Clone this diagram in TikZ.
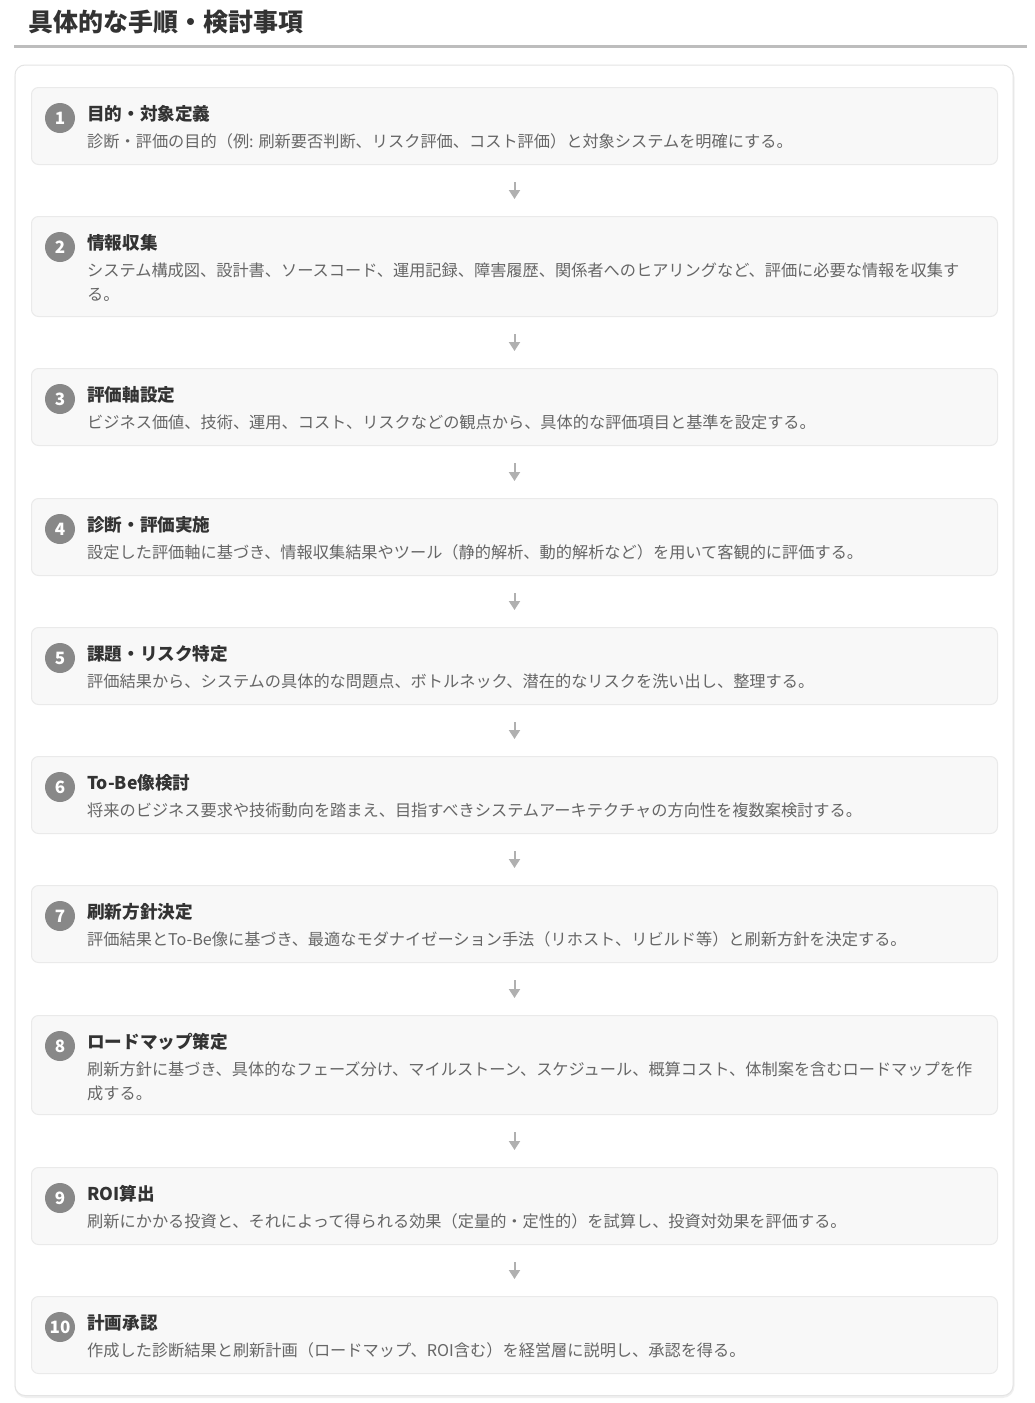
\documentclass[tikz,border=0pt]{standalone}
\usepackage{fontspec}
\setmainfont{Noto Sans CJK JP}
\usetikzlibrary{arrows.meta}
\definecolor{boxfill}{HTML}{F8F8F8}
\definecolor{boxline}{HTML}{EAEAEA}
\definecolor{cardline}{HTML}{E4E4E4}
\definecolor{rulegray}{HTML}{BDBDBD}
\definecolor{numgray}{HTML}{888888}
\definecolor{titletext}{HTML}{333333}
\definecolor{desctext}{HTML}{666666}
\definecolor{arrowgray}{HTML}{B0B0B0}
\tikzset{
  stepbox/.style={draw=boxline, fill=boxfill, line width=1pt, rounded corners=7pt,
    minimum width=966pt, anchor=north west, inner sep=0pt},
  numcircle/.style={circle, fill=numgray, minimum size=30pt, inner sep=0pt,
    text=white, font=\fontsize{17}{17}\selectfont\bfseries},
  steptitle/.style={anchor=base west, inner sep=0pt, text=titletext,
    font=\fontsize{17.6}{20}\selectfont\bfseries},
  stepdesc/.style={anchor=base west, inner sep=0pt, text=desctext, align=left,
    font=\fontsize{16.2}{24}\selectfont},
  flowarrow/.style={draw=arrowgray, line width=2pt,
    -{Triangle[width=11pt,length=9pt]}, shorten <=17pt, shorten >=17pt},
}
% #1 name, #2 top y, #3 height, #4 number, #5 title, #6 description, #7 baseline offset of last line
\newcommand\stepitem[7]{%
  \node[stepbox, minimum height=#3pt] (#1) at (31,#2) {};
  \node[numcircle] (#1n) at (60,#2+31) {#4};
  \node[steptitle] (#1t) at (87,#2+33) {#5};
  \node[stepdesc] (#1d) at (87,#2+#7) {#6};
}
\begin{document}
\begin{tikzpicture}[x=1pt,y=-1pt]
\useasboundingbox (0,0) rectangle (1034,1403);
\fill[white] (0,0) rectangle (1034,1403);
% header
\node[anchor=base west, inner sep=0pt, text=titletext,
  font=\fontsize{25}{28}\selectfont\bfseries] (hdr) at (28,31.5) {具体的な手順・検討事項};
\draw[rulegray, line width=3pt] (14,46.5) -- (1027,46.5);
% card shadow + card
\draw[black!6, line width=2pt, rounded corners=11pt] (15.5,66.5) rectangle (1013.5,1397);
\draw[cardline, fill=white, line width=1pt, rounded corners=10pt] (15,65) rectangle (1013,1395.5);
% steps
\stepitem{s1}{87}{77}{1}{目的・対象定義}{診断・評価の目的（例: 刷新要否判断、リスク評価、コスト評価）と対象システムを明確にする。}{60}
\stepitem{s2}{216}{100}{2}{情報収集}{システム構成図、設計書、ソースコード、運用記録、障害履歴、関係者へのヒアリングなど、評価に必要な情報を収集す\\る。}{84}
\stepitem{s3}{368}{77}{3}{評価軸設定}{ビジネス価値、技術、運用、コスト、リスクなどの観点から、具体的な評価項目と基準を設定する。}{60}
\stepitem{s4}{498}{77}{4}{診断・評価実施}{設定した評価軸に基づき、情報収集結果やツール（静的解析、動的解析など）を用いて客観的に評価する。}{60}
\stepitem{s5}{627}{77}{5}{課題・リスク特定}{評価結果から、システムの具体的な問題点、ボトルネック、潜在的なリスクを洗い出し、整理する。}{60}
\stepitem{s6}{756}{77}{6}{To-Be像検討}{将来のビジネス要求や技術動向を踏まえ、目指すべきシステムアーキテクチャの方向性を複数案検討する。}{60}
\stepitem{s7}{885}{77}{7}{刷新方針決定}{評価結果とTo-Be像に基づき、最適なモダナイゼーション手法（リホスト、リビルド等）と刷新方針を決定する。}{60}
\stepitem{s8}{1015}{99}{8}{ロードマップ策定}{刷新方針に基づき、具体的なフェーズ分け、マイルストーン、スケジュール、概算コスト、体制案を含むロードマップを作\\成する。}{84}
\stepitem{s9}{1167}{77}{9}{ROI算出}{刷新にかかる投資と、それによって得られる効果（定量的・定性的）を試算し、投資対効果を評価する。}{60}
\stepitem{s10}{1296}{77}{10}{計画承認}{作成した診断結果と刷新計画（ロードマップ、ROI含む）を経営層に説明し、承認を得る。}{60}
% arrows
\foreach \a/\b in {s1/s2,s2/s3,s3/s4,s4/s5,s5/s6,s6/s7,s7/s8,s8/s9,s9/s10}
  \draw[flowarrow] (\a.south) -- (\b.north);
\end{tikzpicture}
\end{document}
